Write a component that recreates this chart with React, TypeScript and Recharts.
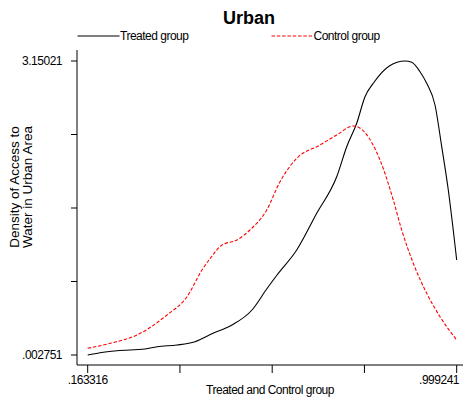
import React from "react";
import { LineChart, Line, XAxis, YAxis, Customized } from "recharts";

const treatedX = [0.1633, 0.1912, 0.2297, 0.2931, 0.3203, 0.3656, 0.4064, 0.4472, 0.4902, 0.5355, 0.5688, 0.5922, 0.6368, 0.6821, 0.7274, 0.7501, 0.7727, 0.7915, 0.8103, 0.8466, 0.8821, 0.8973, 0.9161, 0.9313, 0.9501, 0.9653, 0.9802, 0.9992];
const treatedY = [0.0028, 0.0274, 0.0488, 0.067, 0.0916, 0.1098, 0.1451, 0.2351, 0.3239, 0.4845, 0.7093, 0.8592, 1.1269, 1.5198, 1.9116, 2.2328, 2.4833, 2.7681, 2.9116, 3.0968, 3.1502, 3.1364, 3.0358, 2.9116, 2.6792, 2.2328, 1.7692, 1.0198];

const controlX = [0.1633, 0.2145, 0.275, 0.343, 0.3883, 0.4222, 0.441, 0.4676, 0.5015, 0.531, 0.5688, 0.599, 0.6368, 0.6896, 0.7274, 0.765, 0.7915, 0.8255, 0.8556, 0.8746, 0.9009, 0.9313, 0.9614, 0.9992];
const controlY = [0.0745, 0.128, 0.2169, 0.431, 0.6269, 0.9128, 1.038, 1.1804, 1.234, 1.341, 1.5551, 1.8581, 2.1086, 2.251, 2.3581, 2.4544, 2.3827, 2.0904, 1.6622, 1.341, 0.9845, 0.6633, 0.4128, 0.1633];

const xTicks = [0.163316, 0.372297, 0.581279, 0.79026, 0.999241];
const xTickLabels = [".163316", "", "", "", ".999241"];
const yTicks = [0.002751, 0.789616, 1.576481, 2.363345, 3.15021];
const yTickLabels = [".002751", "", "", "", "3.15021"];

const titleText = "Urban";
const seriesNames = ["Treated group", "Control group"];
const yTitleLines = ["Density of Access to", "Water in Urban Area"];
const xTitle = "Treated and Control group";

const treatedData = treatedX.map((x, i) => ({ x, y: treatedY[i] }));
const controlData = controlX.map((x, i) => ({ x, y: controlY[i] }));

const FONT = "'Liberation Sans', Arial, Helvetica, sans-serif";

const renderXTick = (p: any) => {
  const label = xTickLabels[p.index] ?? "";
  if (!label) return <g />;
  const last = p.index === xTicks.length - 1;
  return (
    <text
      x={last ? 459 : p.x}
      y={384}
      textAnchor={last ? "end" : "middle"}
      fontFamily={FONT}
      fontSize={12}
      letterSpacing={-0.5}
      fill="#000"
    >
      {label}
    </text>
  );
};

const renderYTick = (p: any) => {
  const label = yTickLabels[p.index] ?? "";
  if (!label) return <g />;
  return (
    <text
      x={62}
      y={p.y}
      dy="0.36em"
      textAnchor="end"
      fontFamily={FONT}
      fontSize={12}
      letterSpacing={-0.5}
      fill="#000"
    >
      {label}
    </text>
  );
};

const Overlay = () => (
  <g>
    <text x={249} y={23.5} textAnchor="middle" fontFamily={FONT} fontSize={18} fontWeight="bold" fill="#000">
      {titleText}
    </text>
    <line x1={77.5} y1={36} x2={119.5} y2={36} stroke="#000" strokeWidth={1} />
    <text x={120} y={36} dy="0.36em" fontFamily={FONT} fontSize={12} letterSpacing={-0.5} fill="#000">
      {seriesNames[0]}
    </text>
    <line x1={271.5} y1={36} x2={313} y2={36} stroke="#ff0000" strokeWidth={1} strokeDasharray="3.5 1.8" />
    <text x={313.5} y={36} dy="0.36em" fontFamily={FONT} fontSize={12} letterSpacing={-0.5} fill="#000">
      {seriesNames[1]}
    </text>
    <text x={18.5} y={187} transform="rotate(-90 18.5 187)" textAnchor="middle" fontFamily={FONT} fontSize={13.5} fill="#000">
      {yTitleLines[0]}
    </text>
    <text x={32} y={187} transform="rotate(-90 32 187)" textAnchor="middle" fontFamily={FONT} fontSize={13.5} fill="#000">
      {yTitleLines[1]}
    </text>
    <text x={270} y={393.5} textAnchor="middle" fontFamily={FONT} fontSize={12} letterSpacing={-0.5} fill="#000">
      {xTitle}
    </text>
  </g>
);

export default function App() {
  return (
    <div style={{ position: "absolute", left: 0, top: 0, width: 463, height: 403, background: "#fff" }}>
      <LineChart width={463} height={403} margin={{ top: 50, right: 0, bottom: 0, left: 0 }}>
        <XAxis
          dataKey="x"
          type="number"
          domain={[0.13908, 1.01351]}
          allowDataOverflow
          ticks={xTicks}
          interval={0}
          tickSize={8}
          tickMargin={2}
          height={38}
          axisLine={{ stroke: "#000", strokeWidth: 1 }}
          tickLine={{ stroke: "#000", strokeWidth: 1 }}
          tick={renderXTick}
        />
        <YAxis
          type="number"
          domain={[-0.10431, 3.26798]}
          allowDataOverflow
          ticks={yTicks}
          interval={0}
          tickSize={6}
          tickMargin={9}
          width={77}
          axisLine={{ stroke: "#000", strokeWidth: 1 }}
          tickLine={{ stroke: "#000", strokeWidth: 1 }}
          tick={renderYTick}
        />
        <Line
          data={treatedData}
          dataKey="y"
          name={seriesNames[0]}
          type="monotone"
          stroke="#000"
          strokeWidth={1.1}
          dot={false}
          activeDot={false}
          isAnimationActive={false}
        />
        <Line
          data={controlData}
          dataKey="y"
          name={seriesNames[1]}
          type="monotone"
          stroke="#ff0000"
          strokeWidth={1.1}
          strokeDasharray="3.5 1.8"
          dot={false}
          activeDot={false}
          isAnimationActive={false}
        />
        <Customized component={Overlay} />
      </LineChart>
    </div>
  );
}
